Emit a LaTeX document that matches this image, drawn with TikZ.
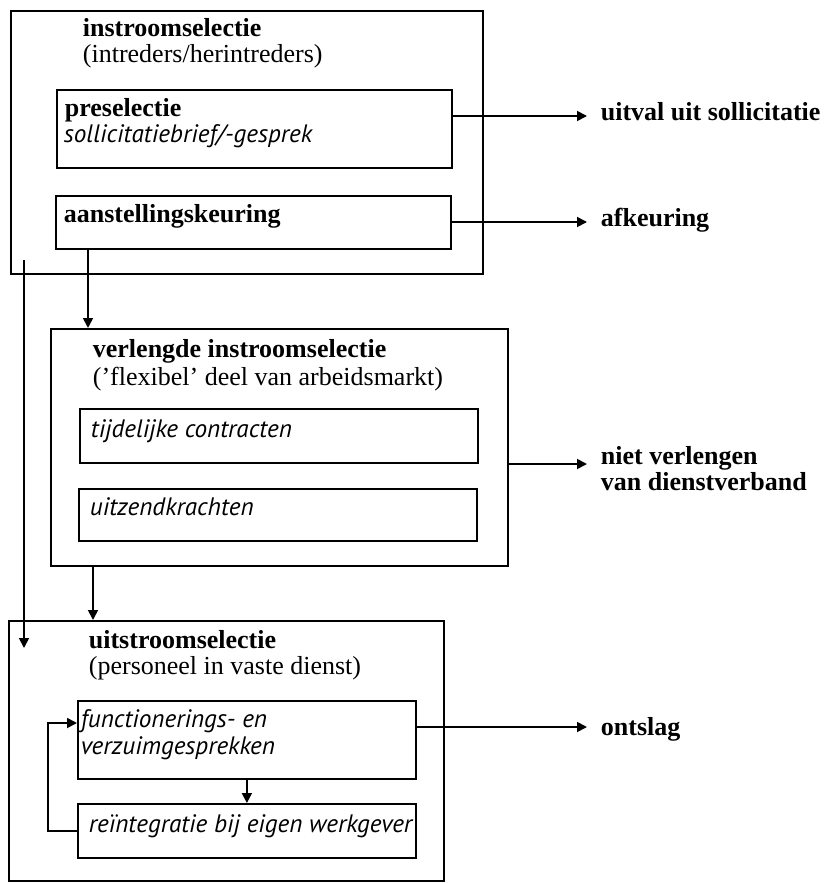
\documentclass[tikz,border=0pt]{standalone}
\usepackage{fontspec}
\setmainfont{Liberation Serif}
\newfontfamily\itsans{PT Sans}
\usetikzlibrary{arrows.meta}

\begin{document}
\begin{tikzpicture}[
    x=0.5pt, y=-0.5pt,
    line width=0.9pt,
    box/.style={draw, rectangle, anchor=north west, inner sep=0pt},
    txt/.style={anchor=base west, inner sep=0pt, font=\fontsize{13}{13.5}\selectfont},
    titel/.style={txt, font=\fontsize{13}{13.5}\selectfont\bfseries},
    cursief/.style={txt, font=\fontsize{12.6}{13}\selectfont\itsans\itshape},
    pijl/.style={-{Triangle[length=5pt,width=5pt]}}
  ]
    \useasboundingbox (0,0) rectangle (830,883);

    % instroom
    \node[box, minimum width=236pt, minimum height=131.5pt] (instr) at (10,10) {};
    \node[titel] (instrt) at (82,37) {instroomselectie};
    \node[txt] (instrs) at (82,63) {(intreders/herintreders)};
    \node[box, minimum width=197.5pt, minimum height=39pt] (pre) at (56,89) {};
    \node[titel] (pret) at (64,117) {preselectie};
    \node[cursief] (pres) at (63,142) {sollicitatiebrief/-gesprek};
    \node[box, minimum width=197.5pt, minimum height=26.5pt] (aan) at (55,195) {};
    \node[titel] (aant) at (63,222) {aanstellingskeuring};

    % verlengde instroom
    \node[box, minimum width=228.5pt, minimum height=118.5pt] (verl) at (50,328) {};
    \node[titel] (verlt) at (92,357) {verlengde instroomselectie};
    \node[txt] (verls) at (92,385) {('flexibel' deel van arbeidsmarkt)};
    \node[box, minimum width=199pt, minimum height=27pt] (tijd) at (79,408) {};
    \node[cursief] (tijdt) at (90,437) {tijdelijke contracten};
    \node[box, minimum width=199pt, minimum height=26pt] (uitz) at (78,488) {};
    \node[cursief] (uitzt) at (89,515) {uitzendkrachten};

    % uitstroom
    \node[box, minimum width=217.5pt, minimum height=130pt] (uitstr) at (8,620) {};
    \node[titel] (uitstrt) at (88,648) {uitstroomselectie};
    \node[txt] (uitstrs) at (88,674) {(personeel in vaste dienst)};
    \node[box, minimum width=169pt, minimum height=39pt] (func) at (77,700) {};
    \node[cursief] (funct1) at (80,727) {functionerings- en};
    \node[cursief] (funct2) at (80,754) {verzuimgesprekken};
    \node[box, minimum width=169pt, minimum height=27pt] (reint) at (77,803) {};
    \node[cursief] (reintt) at (88,832) {reïntegratie bij eigen werkgever};

    % uitval
    \node[titel] (uitval) at (600,120) {uitval uit sollicitatie};
    \node[titel] (afk) at (600,226) {afkeuring};
    \node[titel] (nv1) at (600,464) {niet verlengen};
    \node[titel] (nv2) at (600,490) {van dienstverband};
    \node[titel] (ontsl) at (600,735) {ontslag};
    \coordinate (e1) at (587,116);
    \coordinate (e2) at (587,222);
    \coordinate (e3) at (587,464);
    \coordinate (e4) at (587,727);

    \draw[pijl] (pre.east |- e1) -- (e1);
    \draw[pijl] (aan.east |- e2) -- (e2);
    \draw[pijl] (verl.east |- e3) -- (e3);
    \draw[pijl] (func.east |- e4) -- (e4);

    % doorstroom
    \path (aan.south west) ++(33,0) coordinate (aanuit);
    \draw[pijl] (aanuit) -- (aanuit |- verl.north);
    \path (verl.south west) ++(43,0) coordinate (verluit);
    \draw[pijl] (verluit) -- (verluit |- uitstr.north);
    \path (instr.south west) ++(14,-15) coordinate (instruit);
    \path (uitstr.north west) ++(16,28) coordinate (uitstrin);
    \draw[pijl] (instruit) -- (instruit |- uitstrin);
    \draw[pijl] (func.south) -- (reint.north);
    \path (func.north west) ++(0,23) coordinate (funcin);
    \draw[pijl] (reint.west) -- ++(-29,0) |- (funcin);
\end{tikzpicture}
\end{document}
